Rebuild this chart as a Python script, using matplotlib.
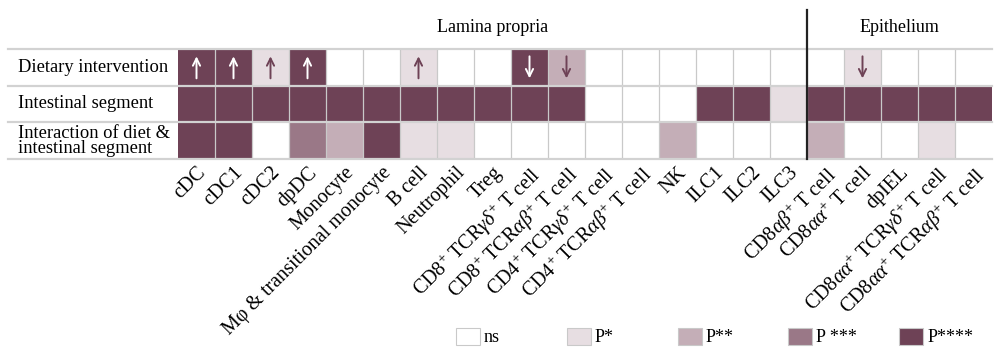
import numpy as np
import matplotlib
matplotlib.use("Agg")
import matplotlib.pyplot as plt
from matplotlib.colors import ListedColormap
from matplotlib.patches import Rectangle

plt.rcParams['font.family'] = ['Liberation Serif', 'DejaVu Serif']
plt.rcParams['mathtext.fontset'] = 'custom'
plt.rcParams['mathtext.rm'] = 'Liberation Serif'
plt.rcParams['mathtext.it'] = 'Liberation Serif:italic'

cell_types = [
    'cDC', 'cDC1', 'cDC2', 'dpDC', 'Monocyte', 'Mφ & transitional monocyte',
    'B cell', 'Neutrophil', 'Treg',
    r'CD8$^{+}$ TCR$\gamma\delta^{+}$ T cell',
    r'CD8$^{+}$ TCR$\alpha\beta^{+}$ T cell',
    r'CD4$^{+}$ TCR$\gamma\delta^{+}$ T cell',
    r'CD4$^{+}$ TCR$\alpha\beta^{+}$ T cell',
    'NK', 'ILC1', 'ILC2', 'ILC3',
    r'CD8$\alpha\beta^{+}$ T cell',
    r'CD8$\alpha\alpha^{+}$ T cell',
    'dpIEL',
    r'CD8$\alpha\alpha^{+}$ TCR$\gamma\delta^{+}$ T cell',
    r'CD8$\alpha\alpha^{+}$ TCR$\alpha\beta^{+}$ T cell',
]
factors = ['Dietary intervention', 'Intestinal segment',
           'Interaction of diet &\nintestinal segment']

# significance level: 0 = ns, 1 = P*, 2 = P**, 3 = P***, 4 = P****
diet = [4, 4, 1, 4, 0, 0, 1, 0, 0, 4, 2, 0, 0, 0, 0, 0, 0, 0, 1, 0, 0, 0]
segment = [4, 4, 4, 4, 4, 4, 4, 4, 4, 4, 4, 0, 0, 0, 4, 4, 1, 4, 4, 4, 4, 4]
interaction = [4, 4, 0, 3, 2, 4, 1, 1, 0, 0, 0, 0, 0, 2, 0, 0, 0, 2, 0, 0, 1, 0]
# direction of the diet effect: 1 up, -1 down, 0 none
direction = [1, 1, 1, 1, 0, 0, 1, 0, 0, -1, -1, 0, 0, 0, 0, 0, 0, 0, -1, 0, 0, 0]

n_lamina = 17
levels = ['ns', 'P*', 'P**', 'P ***', 'P****']
colors = ['#ffffff', '#e7dee2', '#c4aeb7', '#9a7887', '#6e4256']

grid = np.array([diet, segment, interaction])
ncol = len(cell_types)

fig = plt.figure(figsize=(9.94, 3.49), dpi=100)
W, H = 994, 349
left, right, top, bottom = 178, 992, 49, 159
ax = fig.add_axes([left / W, 1 - bottom / H, (right - left) / W, (bottom - top) / H])

cmap = ListedColormap(colors)
ax.pcolormesh(np.arange(ncol + 1), np.arange(4), grid, cmap=cmap, vmin=-0.5, vmax=4.5)
ax.set_xlim(0, ncol)
ax.set_ylim(3, 0)

# cell borders
for x in range(1, ncol):
    ax.plot([x, x], [0, 3], color='#c9c9c9', lw=0.9, zorder=2)
row_h = (bottom - top) / 3
col_w = (right - left) / ncol
x_far = (8 - left) / col_w
for y in range(4):
    ax.plot([x_far, ncol], [y, y], color='#d2d2d2', lw=1.6, zorder=2, clip_on=False)

# split between lamina propria and epithelium
ax.plot([n_lamina, n_lamina], [(10 - top) / row_h, 3], color='#222222', lw=1.6,
        zorder=3, clip_on=False)
ax.text(n_lamina / 2, (27 - top) / row_h, 'Lamina propria', ha='center', va='center',
        fontsize=13)
ax.text((n_lamina + ncol) / 2, (27 - top) / row_h, 'Epithelium', ha='center',
        va='center', fontsize=13)

# row labels
for i, name in enumerate(factors):
    ax.text((18 - left) / col_w, i + 0.5, name, ha='left', va='center', fontsize=13.3,
            linespacing=0.85, clip_on=False)

# arrows for diet effect
for j, d in enumerate(direction):
    if d == 0:
        continue
    c = 'white' if diet[j] >= 3 else colors[4]
    y0, y1 = (0.8, 0.2) if d > 0 else (0.2, 0.8)
    ax.annotate('', xy=(j + 0.5, y1), xytext=(j + 0.5, y0),
                arrowprops=dict(arrowstyle='->', color=c, lw=1.4, mutation_scale=13,
                                shrinkA=0, shrinkB=0))

ax.set_xticks(np.arange(ncol) + 0.5)
ax.set_xticklabels(cell_types, rotation=45, ha='right', rotation_mode='anchor',
                   fontsize=14.5)
ax.tick_params(axis='x', length=0, pad=3)
ax.set_yticks([])
for s in ax.spines.values():
    s.set_visible(False)

# legend along the bottom
for k, (lab, col) in enumerate(zip(levels, colors)):
    x0 = 456 + k * 110.8
    fig.add_artist(Rectangle((x0 / W, 1 - 345 / H), 24 / W, 17 / H, transform=fig.transFigure,
                             facecolor=col, edgecolor='#c9c9c9', lw=0.8))
    fig.text((x0 + 28) / W, 1 - 337 / H, lab, ha='left', va='center', fontsize=13)

fig.savefig('out.png', dpi=100)
